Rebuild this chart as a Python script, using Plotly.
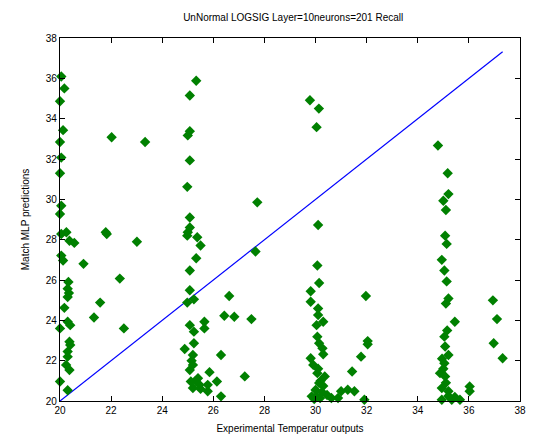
import plotly.graph_objects as go

# Experimental temperature (targets) and MLP predictions
x_target = [
    20.05, 20.17, 20.0, 20.12, 20.0, 20.05, 20.0, 20.05, 20.0, 20.25,
    21.79, 22.02, 23.33,
    20.05, 20.37, 20.56, 21.83, 23.01, 20.05, 20.12, 20.92, 22.34, 20.33,
    20.3, 20.3, 21.57, 20.17, 21.33, 20.3, 20.0, 22.5, 20.4, 20.37,
    20.4, 20.3, 20.24, 20.37, 20.0, 20.3, 20.35, 20.3,
    25.33, 25.08, 25.08, 25.0, 25.08, 24.98, 27.72, 25.08, 25.08, 25.0,
    24.98, 25.37, 25.5, 25.33, 27.65, 25.08, 25.08, 24.98, 25.24, 26.62,
    26.43, 26.82, 27.49, 25.08, 25.24, 25.65, 25.65, 24.88, 25.24, 25.2,
    26.3, 25.2, 25.08, 25.85, 27.23, 25.12, 25.4, 25.2, 26.14, 25.78,
    25.78, 26.3, 25.46, 25.3, 25.15, 25.5,
    29.78, 30.13, 30.04, 30.1,
    30.07, 30.14, 29.81, 29.81, 30.1, 30.1, 30.04, 30.3, 30.07, 30.14,
    30.27, 30.3, 29.81, 29.91, 30.07, 30.36, 30.14, 30.04, 29.85, 30.18,
    30.62, 30.88, 31.0, 31.26, 31.52, 31.43, 31.78, 32.04, 32.04, 31.97,
    31.91, 30.2, 30.0, 30.25, 30.1, 29.95, 30.3, 30.45,
    34.79, 35.17, 35.2, 35.0, 35.1,
    35.07, 35.13, 34.94, 35.04, 35.13, 35.2, 35.1, 35.45, 35.04, 35.07,
    35.2, 35.04, 34.87, 35.07, 34.94, 35.2, 34.94, 35.33, 35.65, 36.03,
    36.03, 36.94, 37.1, 36.97, 37.32, 35.0, 35.15, 34.95, 35.1, 35.2,
    35.45,
]
y_pred = [
    36.09, 35.5, 34.86, 33.43, 32.84, 32.07, 31.29, 29.68, 29.27, 28.37,
    28.37, 33.08, 32.84,
    28.28, 27.95, 27.84, 28.28, 27.9, 27.21, 26.97, 26.8, 26.07, 25.9,
    25.57, 25.16, 24.88, 24.62, 24.14, 23.93, 23.6, 23.6, 23.76, 22.94,
    22.78, 22.2, 21.79, 21.54, 20.97, 20.53, 25.35, 22.45,
    35.88, 35.15, 33.38, 33.17, 31.93, 30.62, 29.85, 29.1, 28.6, 28.37,
    28.2, 28.12, 27.71, 27.08, 27.41, 26.47, 25.49, 24.88, 25.04, 25.21,
    24.23, 24.18, 24.06, 23.76, 23.44, 23.93, 23.6, 22.58, 22.86, 22.28,
    22.28, 21.79, 21.54, 21.43, 21.22, 20.97, 21.13, 20.64, 20.97, 20.8,
    20.48, 20.23, 20.8, 21.0, 22.0, 20.6,
    34.91, 34.5, 33.58, 28.73,
    26.72, 25.85, 25.44, 24.92, 24.59, 24.26, 23.76, 23.93, 23.19, 22.86,
    22.61, 22.32, 22.12, 21.79, 21.38, 21.22, 20.89, 20.23, 20.23, 20.15,
    20.15, 20.15, 20.48, 20.56, 20.48, 21.46, 22.2, 22.97, 22.81, 25.21,
    20.06, 21.0, 20.55, 20.45, 21.6, 20.1, 20.75, 20.3,
    32.67, 31.29, 30.26, 29.93, 29.47,
    28.2, 27.79, 27.0, 26.47, 25.93, 25.08, 24.83, 23.93, 23.19, 22.7,
    22.28, 21.87, 21.38, 21.22, 20.64, 20.48, 20.06, 20.06, 20.06, 20.48,
    20.72, 24.99, 24.06, 22.86, 22.12, 21.6, 23.5, 22.1, 20.9, 20.25,
    20.2,
]

axis_ticks = list(range(20, 39, 2))

# Ideal-fit reference line y = x across the target range
line_x = [min(x_target), max(x_target)]

fig = go.Figure()
fig.add_trace(go.Scatter(
    x=line_x, y=line_x, mode="lines",
    line=dict(color="rgb(0,0,255)", width=1.2),
    showlegend=False, hoverinfo="skip",
))
fig.add_trace(go.Scatter(
    x=x_target, y=y_pred, mode="markers",
    marker=dict(symbol="diamond", size=8, color="rgb(0,128,0)",
                line=dict(width=0)),
    cliponaxis=False, showlegend=False,
))

axis_common = dict(
    range=[20, 38], tickvals=axis_ticks, ticks="inside", ticklen=5,
    tickcolor="black", showline=True, linecolor="black", linewidth=1.3,
    mirror="ticks", showgrid=False, zeroline=False,
    tickfont=dict(size=10, color="black"),
)

fig.update_layout(
    width=536, height=442,
    margin=dict(l=60, r=10, t=38, b=39),
    paper_bgcolor="white", plot_bgcolor="white",
    font=dict(family="Liberation Sans, Arial, sans-serif", color="black", size=10),
    title=dict(text="UnNormal LOGSIG Layer=10neurons=201 Recall",
               x=0.547, xanchor="center", y=0.96, yanchor="middle",
               font=dict(size=10)),
    xaxis=dict(axis_common, title=dict(text="Experimental Temperatur outputs",
                                       standoff=9, font=dict(size=10))),
    yaxis=dict(axis_common, title=dict(text="Match MLP predictions",
                                       standoff=14, font=dict(size=10))),
)

fig.write_html("out.html")
